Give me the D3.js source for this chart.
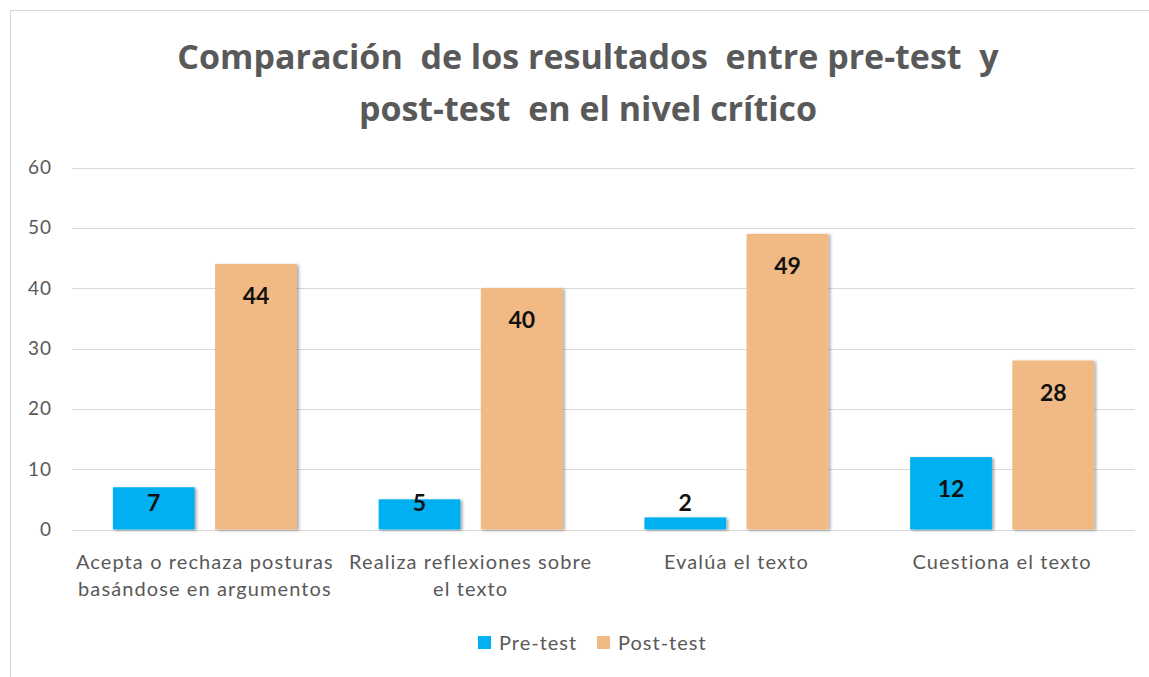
<!DOCTYPE html>
<html>
<head>
<meta charset="utf-8">
<script src="https://cdn.jsdelivr.net/npm/d3@7"></script>
<style>
  body { margin: 0; background: #fff; }
  text { white-space: pre; }
</style>
</head>
<body>
<svg id="chart" width="1149" height="677"></svg>
<script>
//Chart data
const categories = [
  ["Acepta o rechaza posturas", "basándose en argumentos"],
  ["Realiza reflexiones sobre", "el texto"],
  ["Evalúa el texto"],
  ["Cuestiona el texto"],
];
const seriesNames = ["Pre-test", "Post-test"];
const preTest = [7, 5, 2, 12];
const postTest = [44, 40, 49, 28];
const yTicks = [0, 10, 20, 30, 40, 50, 60];
const titleLines = [
  "Comparación  de los resultados  entre pre-test  y",
  "post-test  en el nivel crítico",
];

const colors = { "Pre-test": "#00B0F0", "Post-test": "#F1B983" };
const textGray = "#595959";

const svg = d3.select("#chart");

//Drop shadow for the bars
const defs = svg.append("defs");
const shadow = defs.append("filter").attr("id", "shadow")
  .attr("x", "-20%").attr("y", "-20%").attr("width", "140%").attr("height", "140%");
shadow.append("feDropShadow")
  .attr("dx", 2).attr("dy", 1).attr("stdDeviation", 1.5)
  .attr("flood-color", "#000").attr("flood-opacity", 0.35);

//Outer border
svg.append("rect")
  .attr("x", 10.5).attr("y", 10.5)
  .attr("width", 1160).attr("height", 700)
  .attr("fill", "none").attr("stroke", "#d9d9d9").attr("stroke-width", 1.2);

//Title
svg.append("g").selectAll("text")
  .data(titleLines)
  .enter()
  .append("text")
  .attr("x", 588)
  .attr("y", (d, i) => 69 + i * 52)
  .attr("text-anchor", "middle")
  .attr("font-family", "'Open Sans', sans-serif")
  .attr("font-weight", "bold")
  .attr("font-size", 34)
  .attr("fill", textGray)
  .text((d) => d);

//Scales
const plotLeft = 72, plotRight = 1135, plotTop = 167.5, plotBottom = 529.5;
const rows = categories.map((c, i) => ({
  key: i,
  label: c,
  values: [
    { name: "Pre-test", value: preTest[i] },
    { name: "Post-test", value: postTest[i] },
  ],
}));

const x0 = d3.scaleBand().domain(d3.range(categories.length)).range([plotLeft, plotRight]).padding(0);
const x1 = d3.scaleBand().domain(seriesNames).range([0, x0.bandwidth()])
  .paddingInner(0.2).paddingOuter(0.4);
const y = d3.scaleLinear().domain([0, 60]).range([plotBottom, plotTop]);

//Gridlines
svg.append("g").selectAll("line")
  .data(yTicks)
  .enter()
  .append("line")
  .attr("x1", plotLeft).attr("x2", plotRight)
  .attr("y1", (d) => Math.round(y(d)) + 0.5)
  .attr("y2", (d) => Math.round(y(d)) + 0.5)
  .attr("stroke", "#d9d9d9").attr("stroke-width", 1);

//Y axis labels
const yAxis = d3.axisLeft(y).tickValues(yTicks).tickSize(0).tickPadding(0);
const yG = svg.append("g")
  .attr("transform", `translate(${plotLeft - 20}, 0)`)
  .call(yAxis);
yG.select(".domain").remove();
yG.selectAll("text")
  .attr("font-family", "Lato, sans-serif")
  .attr("font-size", 19)
  .attr("letter-spacing", 1)
  .attr("fill", textGray);

//Bars
const groups = svg.append("g").selectAll("g")
  .data(rows)
  .enter()
  .append("g")
  .attr("transform", (d) => `translate(${x0(d.key)}, 0)`);

groups.selectAll("rect")
  .data((d) => d.values)
  .enter()
  .append("rect")
  .attr("x", (d) => x1(d.name))
  .attr("y", (d) => y(d.value))
  .attr("width", x1.bandwidth())
  .attr("height", (d) => y(0) - y(d.value))
  .attr("fill", (d) => colors[d.name])
  .attr("filter", "url(#shadow)");

//Value labels (inside end, pushed up when bar is short)
groups.selectAll("text.value")
  .data((d) => d.values)
  .enter()
  .append("text")
  .attr("class", "value")
  .attr("x", (d) => x1(d.name) + x1.bandwidth() / 2)
  .attr("y", (d) => Math.min(y(d.value) + 32, y(0) - 27))
  .attr("dy", "0.35em")
  .attr("text-anchor", "middle")
  .attr("font-family", "Lato, sans-serif")
  .attr("font-weight", "bold")
  .attr("font-size", 23)
  .attr("fill", "#111")
  .text((d) => d.value);

//Category labels
groups.append("text")
  .attr("x", x0.bandwidth() / 2)
  .attr("font-family", "Lato, sans-serif")
  .attr("font-size", 20)
  .attr("letter-spacing", 1.1)
  .attr("fill", textGray)
  .attr("text-anchor", "middle")
  .selectAll("tspan")
  .data((d) => d.label)
  .enter()
  .append("tspan")
  .attr("x", x0.bandwidth() / 2)
  .attr("y", (d, i) => plotBottom + 39 + i * 27)
  .text((d) => d);

//Legend
const legend = svg.append("g").attr("transform", "translate(478, 643)");
const legendX = [0, 119];
const items = legend.selectAll("g")
  .data(seriesNames)
  .enter()
  .append("g")
  .attr("transform", (d, i) => `translate(${legendX[i]}, 0)`);
items.append("rect")
  .attr("x", 0).attr("y", -7)
  .attr("width", 13).attr("height", 13)
  .attr("fill", (d) => colors[d]);
items.append("text")
  .attr("x", 21).attr("y", 0)
  .attr("dy", "0.35em")
  .attr("font-family", "Lato, sans-serif")
  .attr("font-size", 20)
  .attr("letter-spacing", 1)
  .attr("fill", textGray)
  .text((d) => d);
</script>
</body>
</html>
